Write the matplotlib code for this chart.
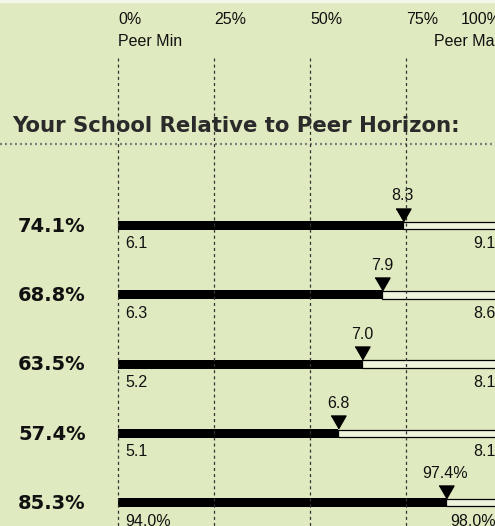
import matplotlib.pyplot as plt

plt.rcParams['lines.scale_dashes'] = False

# data
percentiles = [74.1, 68.8, 63.5, 57.4, 85.3]
school_vals = ['8.3', '7.9', '7.0', '6.8', '97.4%']
peer_mins = ['6.1', '6.3', '5.2', '5.1', '94.0%']
peer_maxs = ['9.1', '8.6', '8.1', '8.1', '98.0%']
grid_ticks = [0, 25, 50, 75, 100]
tick_labels = ['0%', '25%', '50%', '75%', '100%']

bg = '#e0eac0'
W, H = 495, 526
x0_px, span_px = 118, 384   # pixel position of 0% and width of 0..100%

fig = plt.figure(figsize=(W / 100, H / 100), dpi=100)
fig.patch.set_facecolor(bg)
ax = fig.add_axes([0, 0, 1, 1])
ax.set_facecolor(bg)
ax.set_xlim(-x0_px / span_px * 100, (W - x0_px) / span_px * 100)
ax.set_ylim(H, 0)
ax.axis('off')

# thin light strip at the very top
ax.axhspan(0, 2, color='#f3f6ea', zorder=1)

# column headers
for t, lab in zip(grid_ticks, tick_labels):
    ha = 'right' if t == 100 else 'left'
    ax.text(t, 20, lab, ha=ha, va='center', fontsize=11.5,
            family='Liberation Sans', color='#111111')
ax.text(0, 42, 'Peer Min', ha='left', va='center', fontsize=11.5,
        family='Liberation Sans', color='#111111')
ax.text(100, 42, 'Peer Max', ha='right', va='center', fontsize=11.5,
        family='Liberation Sans', color='#111111')

# dashed quartile lines
for t in grid_ticks:
    ax.vlines(t, 58, H, colors='#333333', lw=0.9, linestyles=(0, (2.2, 2.2)), zorder=4)

# title and dotted rule
ax.text(-27.6, 126, 'Your School Relative to Peer Horizon:', ha='left', va='center',
        fontsize=15.3, fontweight='bold', family='DejaVu Sans', color='#2a2a2a', zorder=5)
ax.axhline(144, color='#7c7c7c', lw=1.6, linestyle=(0, (1.4, 2.2)), zorder=3)

row_y0, row_gap, bar_h = 225.5, 69.25, 9
for i, (p, v, lo, hi) in enumerate(zip(percentiles, school_vals, peer_mins, peer_maxs)):
    y = row_y0 + i * row_gap
    ax.barh(y, 100 - p, left=p, height=bar_h - 1.5, color='#eef4dc',
            edgecolor='black', lw=0.9, zorder=3)
    ax.barh(y, p, left=0, height=bar_h, color='black', zorder=3)
    tri_h = 13
    ax.plot(p, y - bar_h / 2 - tri_h / 2, marker=[(-7.5, 6.5), (7.5, 6.5), (0, -6.5)],
            ms=10.8, color='black', zorder=6)
    ax.text(p, y - 29.5, v, ha='center', va='center', fontsize=11.5,
            family='Liberation Sans', color='#111111')
    ax.text(1.8, y + 18.5, lo, ha='left', va='center', fontsize=11.5,
            family='Liberation Sans', color='#111111')
    ax.text(98.3, y + 18.5, hi, ha='right', va='center', fontsize=11.5,
            family='Liberation Sans', color='#111111')
    ax.text(-26, y + 1, f'{p:.1f}%', ha='left', va='center', fontsize=14,
            fontweight='bold', family='DejaVu Sans', color='#111111')

fig.savefig('out.png', dpi=100, facecolor=bg)
